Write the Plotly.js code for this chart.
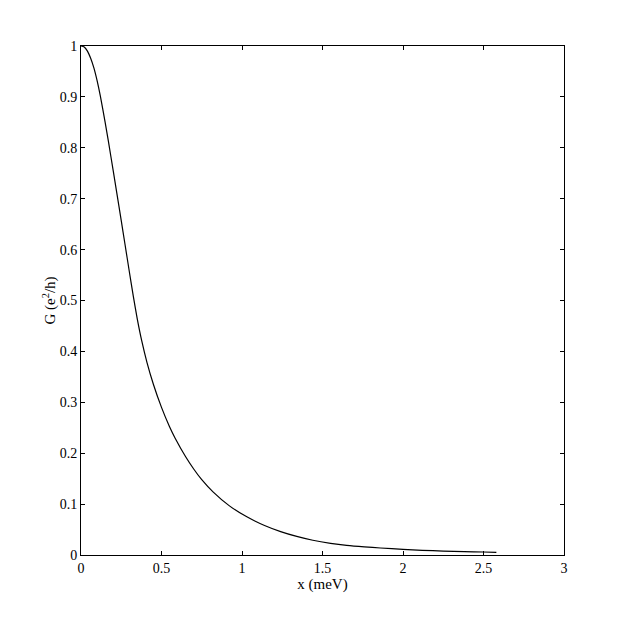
<!DOCTYPE html>
<html>
<head>
<meta charset="utf-8">
<script src="https://cdn.plot.ly/plotly-3.0.1.min.js"></script>
<style>html,body{margin:0;padding:0;background:#fff;}#chart{width:623px;height:623px;}</style>
</head>
<body>
<div id="chart"></div>
<script>
const energy = [0, 0.02, 0.04, 0.06, 0.08, 0.10, 0.12, 0.15, 0.17, 0.20, 0.222, 0.25, 0.273, 0.30, 0.325, 0.35, 0.377, 0.41, 0.449, 0.50, 0.55, 0.584, 0.65, 0.70, 0.75, 0.82, 0.92, 1.03, 1.14, 1.24, 1.34, 1.44, 1.55, 1.65, 1.76, 1.86, 2.0, 2.12, 2.25, 2.38, 2.5, 2.58];
const conductance = [1, 0.998, 0.99, 0.976, 0.957, 0.932, 0.902, 0.85, 0.813, 0.755, 0.712, 0.657, 0.611, 0.557, 0.508, 0.463, 0.421, 0.378, 0.336, 0.290, 0.252, 0.230, 0.193, 0.169, 0.148, 0.124, 0.097, 0.075, 0.058, 0.046, 0.0365, 0.029, 0.023, 0.019, 0.016, 0.0138, 0.0110, 0.0092, 0.0078, 0.0067, 0.0059, 0.0050];
const xTicks = [0, 0.5, 1, 1.5, 2, 2.5, 3];
const xTickText = ["0", "0.5", "1", "1.5", "2", "2.5", "3"];
const yTicks = [0, 0.1, 0.2, 0.3, 0.4, 0.5, 0.6, 0.7, 0.8, 0.9, 1];
const yTickText = ["0", "0.1", "0.2", "0.3", "0.4", "0.5", "0.6", "0.7", "0.8", "0.9", "1"];

const font = {family: "Liberation Serif, Times New Roman, serif", size: 14, color: "#000"};
const titleFont = {family: "Liberation Serif, Times New Roman, serif", size: 15, color: "#000"};
const axisCommon = {
  showline: true, linecolor: "#000", linewidth: 1, mirror: "ticks",
  ticks: "inside", ticklen: 4, tickcolor: "#000", tickwidth: 1,
  showgrid: false, zeroline: false, tickfont: font
};
Plotly.newPlot("chart", [{
  x: energy, y: conductance, type: "scatter", mode: "lines",
  line: {color: "#000", width: 1.2, shape: "spline", smoothing: 0.5}
}], {
  width: 623, height: 623,
  margin: {l: 81, r: 59, t: 46, b: 68},
  paper_bgcolor: "#fff", plot_bgcolor: "#fff",
  showlegend: false, font: font,
  xaxis: Object.assign({}, axisCommon, {range: [0, 3], tickvals: xTicks, ticktext: xTickText, ticklabelstandoff: 0,
    title: {text: "x (meV)", font: titleFont, standoff: 2}}),
  yaxis: Object.assign({}, axisCommon, {range: [0, 1], tickvals: yTicks, ticktext: yTickText, ticklabelstandoff: 0,
    title: {text: "G (e<sup>2</sup>/h)", font: titleFont, standoff: 0}})
}, {displayModeBar: false, staticPlot: true});
</script>
</body>
</html>
